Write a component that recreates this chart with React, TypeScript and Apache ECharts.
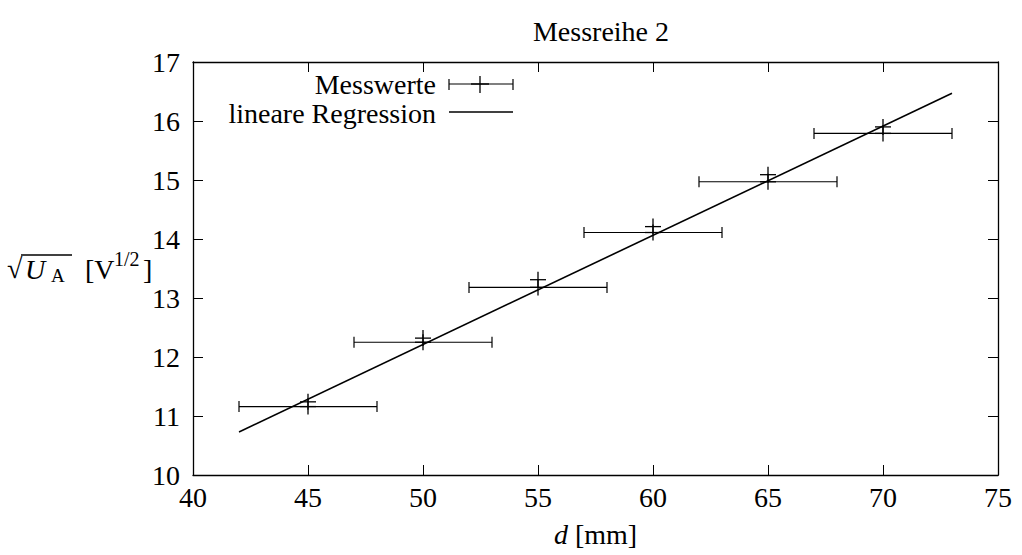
import React, { useEffect, useRef } from "react";
import * as echarts from "echarts";

const distances = [45, 50, 55, 60, 65, 70];
const valuesA = [11.16, 12.25, 13.18, 14.11, 14.97, 15.79];
const valuesB = [11.24, 12.32, 13.31, 14.21, 15.09, 15.9];
const distErr = [3, 3, 3, 3, 3, 3];
const regressionLine = [
  [42, 10.73],
  [73, 16.47],
];
const titleText = "Messreihe 2";
const legendNames = ["Messwerte", "lineare Regression"];

const FONT = "'Liberation Serif', 'Times New Roman', serif";
const INK = "#000";

export default function App() {
  const ref = useRef<HTMLDivElement>(null);
  useEffect(() => {
    if (!ref.current) return;
    const chart = echarts.init(ref.current, undefined, { renderer: "svg" });

    const errData = distances.map((d, i) => [d, valuesA[i], distErr[i]]);
    const crossData = distances.map((d, i) => [d, valuesB[i]]);

    const crossShape = (cx: number, cy: number, s: number) => [
      { type: "line", shape: { x1: cx - s, y1: cy, x2: cx + s, y2: cy }, style: { stroke: INK, lineWidth: 1.3 } },
      { type: "line", shape: { x1: cx, y1: cy - s, x2: cx, y2: cy + s }, style: { stroke: INK, lineWidth: 1.3 } },
    ];

    const axisCommon = {
      axisLine: { show: true, lineStyle: { color: INK, width: 1.3 } },
      axisTick: { show: true, inside: true, length: 10, lineStyle: { color: INK, width: 1 } },
      splitLine: { show: false },
    };

    chart.setOption({
      animation: false,
      backgroundColor: "#fff",
      title: {
        text: titleText,
        left: 596,
        textAlign: "center",
        top: 12,
        textStyle: { fontFamily: FONT, fontSize: 28, fontWeight: "normal", color: INK },
      },
      grid: { left: 193, right: 24, top: 62, bottom: 80 },
      xAxis: [
        {
          type: "value",
          min: 40,
          max: 75,
          interval: 5,
          position: "bottom",
          ...axisCommon,
          axisLabel: { fontFamily: FONT, fontSize: 28, color: INK, margin: 8 },
          name: "{i|d} [mm]",
          nameLocation: "middle",
          nameGap: 45,
          nameTextStyle: {
            fontFamily: FONT,
            fontSize: 28,
            color: INK,
            rich: { i: { fontFamily: FONT, fontSize: 28, fontStyle: "italic", color: INK } },
          },
        },
        {
          type: "value",
          min: 40,
          max: 75,
          interval: 5,
          position: "top",
          ...axisCommon,
          axisLabel: { show: false },
        },
      ],
      yAxis: [
        {
          type: "value",
          min: 10,
          max: 17,
          interval: 1,
          position: "left",
          ...axisCommon,
          axisLabel: { fontFamily: FONT, fontSize: 28, color: INK, margin: 13 },
        },
        {
          type: "value",
          min: 10,
          max: 17,
          interval: 1,
          position: "right",
          ...axisCommon,
          axisLabel: { show: false },
        },
      ],
      series: [
        {
          type: "custom",
          name: legendNames[0],
          xAxisIndex: 0,
          yAxisIndex: 0,
          data: errData,
          renderItem: (params: any, api: any) => {
            const x = api.value(0);
            const y = api.value(1);
            const e = api.value(2);
            const c = api.coord([x, y]);
            const l = api.coord([x - e, y]);
            const r = api.coord([x + e, y]);
            const cap = 5.5;
            return {
              type: "group",
              children: [
                { type: "line", shape: { x1: l[0], y1: l[1], x2: r[0], y2: r[1] }, style: { stroke: INK, lineWidth: 1.2 } },
                { type: "line", shape: { x1: l[0], y1: l[1] - cap, x2: l[0], y2: l[1] + cap }, style: { stroke: INK, lineWidth: 1.2 } },
                { type: "line", shape: { x1: r[0], y1: r[1] - cap, x2: r[0], y2: r[1] + cap }, style: { stroke: INK, lineWidth: 1.2 } },
                ...crossShape(c[0], c[1], 8),
              ],
            };
          },
        },
        {
          type: "custom",
          name: legendNames[0] + " (2)",
          xAxisIndex: 0,
          yAxisIndex: 0,
          data: crossData,
          renderItem: (params: any, api: any) => {
            const c = api.coord([api.value(0), api.value(1)]);
            return { type: "group", children: crossShape(c[0], c[1], 8) };
          },
        },
        {
          type: "line",
          name: legendNames[1],
          xAxisIndex: 0,
          yAxisIndex: 0,
          data: regressionLine,
          symbol: "none",
          lineStyle: { color: INK, width: 1.6 },
        },
      ],
      graphic: [
        // legend
        {
          type: "text",
          x: 436,
          y: 84,
          style: { text: legendNames[0], font: `28px ${FONT}`, fill: INK, textAlign: "right", textVerticalAlign: "middle" },
        },
        { type: "line", shape: { x1: 449, y1: 84, x2: 513, y2: 84 }, style: { stroke: INK, lineWidth: 1.2 } },
        { type: "line", shape: { x1: 449, y1: 79, x2: 449, y2: 90 }, style: { stroke: INK, lineWidth: 1.2 } },
        { type: "line", shape: { x1: 513, y1: 79, x2: 513, y2: 90 }, style: { stroke: INK, lineWidth: 1.2 } },
        { type: "line", shape: { x1: 471, y1: 84, x2: 489, y2: 84 }, style: { stroke: INK, lineWidth: 1.4 } },
        { type: "line", shape: { x1: 480, y1: 76, x2: 480, y2: 93 }, style: { stroke: INK, lineWidth: 1.3 } },
        {
          type: "text",
          x: 436,
          y: 113,
          style: { text: legendNames[1], font: `28px ${FONT}`, fill: INK, textAlign: "right", textVerticalAlign: "middle" },
        },
        { type: "line", shape: { x1: 449, y1: 112, x2: 513, y2: 112 }, style: { stroke: INK, lineWidth: 1.3 } },
        // y axis name
        {
          type: "text",
          x: 7,
          y: 268,
          style: { text: "√", font: `28px ${FONT}`, fill: INK, textAlign: "left", textVerticalAlign: "middle" },
        },
        { type: "line", shape: { x1: 21, y1: 255, x2: 72, y2: 255 }, style: { stroke: INK, lineWidth: 1.3 } },
        {
          type: "text",
          x: 25,
          y: 269,
          style: { text: "U", font: `italic 28px ${FONT}`, fill: INK, textAlign: "left", textVerticalAlign: "middle" },
        },
        {
          type: "text",
          x: 51,
          y: 275,
          style: { text: "A", font: `19px ${FONT}`, fill: INK, textAlign: "left", textVerticalAlign: "middle" },
        },
        {
          type: "text",
          x: 85,
          y: 269,
          style: { text: "[V", font: `28px ${FONT}`, fill: INK, textAlign: "left", textVerticalAlign: "middle" },
        },
        {
          type: "text",
          x: 114,
          y: 259,
          style: { text: "1/2", font: `20px ${FONT}`, fill: INK, textAlign: "left", textVerticalAlign: "middle" },
        },
        {
          type: "text",
          x: 143,
          y: 269,
          style: { text: "]", font: `28px ${FONT}`, fill: INK, textAlign: "left", textVerticalAlign: "middle" },
        },
      ],
    });

    return () => chart.dispose();
  }, []);

  return (
    <div
      ref={ref}
      style={{ position: "fixed", left: 0, top: 0, width: 1022, height: 555, background: "#fff" }}
    />
  );
}
